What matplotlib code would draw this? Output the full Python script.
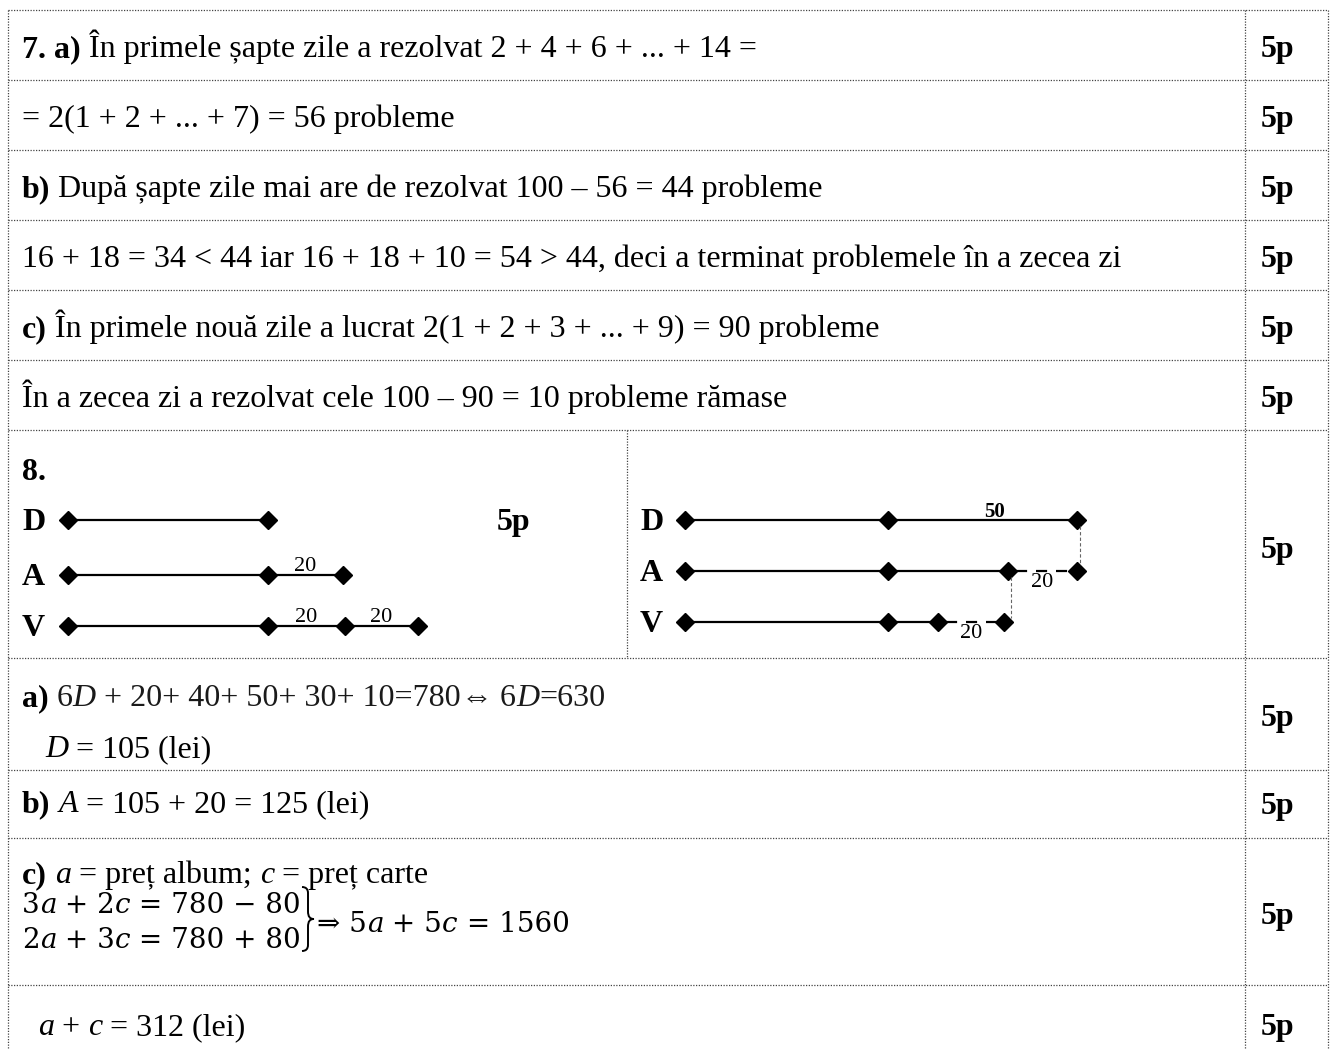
import matplotlib
matplotlib.use("Agg")
import matplotlib.pyplot as plt
from matplotlib.path import Path
from matplotlib.patches import PathPatch

# ---------------- data ----------------
row_texts = [
    [("7. a)", "b"), (" În primele șapte zile a rezolvat 2 + 4 + 6 + ... + 14 =", "r")],
    [("= 2(1 + 2 + ... + 7) = 56 probleme", "r")],
    [("b)", "b"), (" După șapte zile mai are de rezolvat 100 – 56 = 44 probleme", "r")],
    [("16 + 18 = 34 < 44 iar 16 + 18 + 10 = 54 > 44, deci a terminat problemele în a zecea zi", "r")],
    [("c)", "b"), (" În primele nouă zile a lucrat 2(1 + 2 + 3 + ... + 9) = 90 probleme", "r")],
    [("În a zecea zi a rezolvat cele 100 – 90 = 10 probleme rămase", "r")],
]
points = ["5p", "5p", "5p", "5p", "5p", "5p", "5p", "5p", "5p", "5p", "5p"]

labels = ["D", "A", "V"]
# left diagram: segment lengths (schematic units), labels above segments
left_segments = {"D": [200], "A": [200, 75], "V": [200, 77, 73]}
left_seg_labels = {"D": [""], "A": ["", "20"], "V": ["", "20", "20"]}
# right diagram: segment lengths, styles, labels
right_segments = {"D": [203, 189], "A": [203, 120, 69], "V": [203, 50, 66]}
right_seg_styles = {"D": ["-", "-"], "A": ["-", "-", "--"], "V": ["-", "-", "--"]}
right_seg_labels = {"D": ["", "50"], "A": ["", "", "20"], "V": ["", "", "20"]}

part_a = [[("a)", "b"), (" 6", "r"), ("D", "i"), (" + 20+ 40+ 50+ 30+ 10=780", "r"),
           ("⇔", "r"), (" 6", "r"), ("D", "i"), ("=630", "r")],
          [("D", "i"), (" = 105 (lei)", "r")]]
part_b = [("b)", "b"), (" ", "r"), ("A", "i"), (" = 105 + 20 = 125 (lei)", "r")]
part_c = [("c)", "b"), (" ", "r"), ("a", "i"), (" = preț album; ", "r"), ("c", "i"), (" = preț carte", "r")]
eq1 = [("3", "r"), ("a", "i"), (" + 2", "r"), ("c", "i"), (" = 780 − 80", "r")]
eq2 = [("2", "r"), ("a", "i"), (" + 3", "r"), ("c", "i"), (" = 780 + 80", "r")]
eq3 = [("⇒ 5", "r"), ("a", "i"), (" + 5", "r"), ("c", "i"), (" = 1560", "r")]
part_final = [("a", "i"), (" + ", "r"), ("c", "i"), (" = 312 (lei)", "r")]

# ---------------- figure ----------------
W, H = 1330, 1050
fig = plt.figure(figsize=(W / 100, H / 100), dpi=100)
ax = fig.add_axes([0, 0, 1, 1])
ax.set_xlim(0, W)
ax.set_ylim(H, 0)
ax.axis("off")
fig.canvas.draw()
renderer = fig.canvas.get_renderer()

FAM = ["Liberation Serif", "DejaVu Serif"]
EQFAM = ["DejaVu Serif", "Liberation Serif"]
FS = 23
EQFS = 20
GRID = dict(color="#444444", lw=0.9, ls=(0, (1, 1.2)))


def kw_for(style, size, fam=FAM):
    return dict(family=fam, size=size,
                weight="bold" if "b" in style else "normal",
                style="italic" if "i" in style else "normal")


def text_width(s, **kw):
    t = ax.text(0, 0, "|" + s + "|", **kw)
    w1 = t.get_window_extent(renderer).width
    t.remove()
    t = ax.text(0, 0, "||", **kw)
    w2 = t.get_window_extent(renderer).width
    t.remove()
    return w1 - w2


def runs(x, y, items, size=FS, color="black", fam=FAM):
    for s, st in items:
        kw = kw_for(st, size, fam)
        ax.text(x, y, s, ha="left", va="baseline", color=color, **kw)
        x += text_width(s, **kw)
    return x


# ---------------- grid ----------------
XL, XM, XD, XR = 8, 627, 1245, 1328
hlines = [10, 80, 150, 220, 290, 360, 430, 658, 770, 838, 985]
for y in hlines:
    ax.plot([XL, XR], [y, y], **GRID)
ax.plot([XL, XL], [10, H], **GRID)
ax.plot([XD, XD], [10, H], **GRID)
ax.plot([XR, XR], [10, H], **GRID)
ax.plot([XM, XM], [430, 658], **GRID)

# ---------------- first six rows ----------------
base = [57, 127, 197, 267, 337, 407]
for items, b in zip(row_texts, base):
    runs(22, b, items)

pt_base = base + [558, 726, 814, 924, 1035]
for p, b in zip(points, pt_base):
    ax.text(1277, b, p, ha="center", va="baseline", **kw_for("b", FS))

# ---------------- row 8 diagrams ----------------
ax.text(22, 480, "8.", ha="left", va="baseline", **kw_for("b", FS))
ax.text(497, 530, "5p", ha="left", va="baseline", **kw_for("b", FS))
ly = {"D": 520, "A": 575, "V": 626}
ry = {"D": 520, "A": 571, "V": 622}
for lab in labels:
    ax.text(22, ly[lab] + 10, lab, ha="left", va="baseline", **kw_for("b", FS))
    ax.text(640, ry[lab] + 10, lab, ha="left", va="baseline", **kw_for("b", FS))

    # left diagram
    x = 68
    xs = [x]
    for seg, sl in zip(left_segments[lab], left_seg_labels[lab]):
        x2 = x + seg
        ax.plot([x, x2], [ly[lab], ly[lab]], color="black", lw=1.6, solid_capstyle="butt")
        if sl:
            ax.text((x + x2) / 2, ly[lab] - 4, sl, ha="center", va="baseline",
                    **kw_for("r", 16))
        x = x2
        xs.append(x)
    ax.plot(xs, [ly[lab]] * len(xs), ls="none", marker="D", ms=9, color="black")

    # right diagram
    x = 685
    xs = [x]
    for seg, st, sl in zip(right_segments[lab], right_seg_styles[lab], right_seg_labels[lab]):
        x2 = x + seg
        if st == "-":
            ax.plot([x, x2], [ry[lab], ry[lab]], color="black", lw=1.6, solid_capstyle="butt")
        else:
            ax.plot([x + 8, x2 - 8], [ry[lab], ry[lab]], color="black", lw=1.6,
                    ls=(0, (5, 4)), dash_capstyle="butt")
        if sl:
            if st == "-":
                ax.text((x + x2) / 2 + 12, ry[lab] - 3, sl, ha="center", va="baseline",
                        **kw_for("b", 15))
            else:
                ax.text((x + x2) / 2, ry[lab] + 16, sl, ha="center", va="baseline",
                        **kw_for("r", 16))
        x = x2
        xs.append(x)
    ax.plot(xs, [ry[lab]] * len(xs), ls="none", marker="D", ms=9, color="black")

# vertical dashed connectors
dxD = 685 + sum(right_segments["D"])
dxA = 685 + sum(right_segments["A"][:2])
ax.plot([dxD + 3, dxD + 3], [ry["D"] + 6, ry["A"] - 6], color="#666666", lw=0.8, ls=(0, (3, 2)))
ax.plot([dxA + 3, dxA + 3], [ry["A"] + 6, ry["V"] - 4], color="#666666", lw=0.8, ls=(0, (3, 2)))

# ---------------- part a, b ----------------
runs(22, 706, part_a[0][:1])
runs(22 + text_width("a)", **kw_for("b", FS)), 706, part_a[0][1:], color="#1a1a1a")
runs(45, 757, part_a[1])
runs(22, 812, part_b)

# ---------------- part c ----------------
runs(22, 883, part_c)
xe = runs(22, 913, eq1, size=EQFS, fam=EQFAM)
runs(22, 948, eq2, size=EQFS, fam=EQFAM)
# brace
bx = xe + 1
top, bot, mid = 887, 951, 919
verts = [(bx, top), (bx + 6, top), (bx + 6, top + 6), (bx + 6, mid - 8),
         (bx + 6, mid - 2), (bx + 8, mid), (bx + 12, mid),
         (bx + 8, mid), (bx + 6, mid + 2), (bx + 6, mid + 8),
         (bx + 6, bot - 6), (bx + 6, bot), (bx, bot)]
codes = [Path.MOVETO, Path.CURVE3, Path.CURVE3, Path.LINETO,
         Path.CURVE4, Path.CURVE4, Path.CURVE4,
         Path.CURVE4, Path.CURVE4, Path.CURVE4,
         Path.LINETO, Path.CURVE3, Path.CURVE3]
ax.add_patch(PathPatch(Path(verts, codes), fill=False, lw=1.4, color="black"))
runs(bx + 15, 932, eq3, size=EQFS, fam=EQFAM)

runs(38, 1035, part_final)

fig.savefig("out.png", dpi=100)
